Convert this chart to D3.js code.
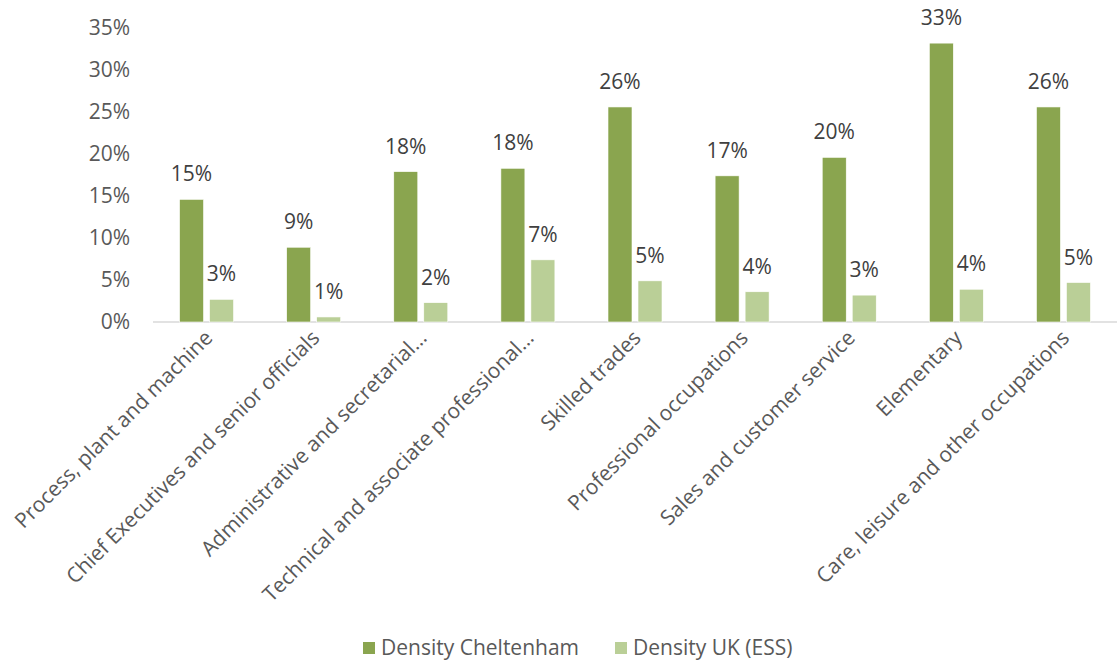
<!DOCTYPE html>
<html>
<head>
<meta charset="utf-8">
<script src="https://cdn.jsdelivr.net/npm/d3@7"></script>
<style>
  body { margin: 0; background: #fff; }
  svg { display: block; font-family: "Open Sans", "Noto Sans", sans-serif; }
</style>
</head>
<body>
<svg id="chart" width="1119" height="663"></svg>
<script>
// Occupations shown along the x axis
const categories = [
  "Process, plant and machine",
  "Chief Executives and senior officials",
  "Administrative and secretarial…",
  "Technical and associate professional…",
  "Skilled trades",
  "Professional occupations",
  "Sales and customer service",
  "Elementary",
  "Care, leisure and other occupations"
];
// Density values (fractions)
const cheltenham = [0.146, 0.089, 0.179, 0.183, 0.256, 0.174, 0.196, 0.332, 0.256];
const ukEss      = [0.027, 0.006, 0.023, 0.074, 0.049, 0.036, 0.032, 0.039, 0.047];
const seriesNames = ["Density Cheltenham", "Density UK (ESS)"];
const yTicks = [0, 0.05, 0.10, 0.15, 0.20, 0.25, 0.30, 0.35];

const colors = ["#8AA54F", "#BACF97"];
const fontSize = "21px";
const svg = d3.select("#chart");
const margin = { left: 153, right: 2, top: 28, bottom: 341 };
const W = 1119, H = 663;

const x = d3.scaleBand().domain(categories).range([margin.left, W - margin.right]).padding(0);
const y = d3.scaleLinear().domain([0, 0.35]).range([H - margin.bottom, margin.top]);
const pct = d3.format(".0%");

// y axis labels
const yAxis = svg.append("g")
  .attr("transform", `translate(${margin.left - 23},0)`)
  .call(d3.axisLeft(y).tickValues(yTicks).tickFormat(pct).tickSize(0).tickPadding(0));
yAxis.select(".domain").remove();
yAxis.selectAll("text").attr("fill", "#595959").style("font-size", fontSize)
  .style("font-family", "'Open Sans', sans-serif");

// baseline
svg.append("line")
  .attr("x1", margin.left).attr("x2", W - margin.right)
  .attr("y1", y(0)).attr("y2", y(0))
  .attr("stroke", "#D9D9D9").attr("stroke-width", 1.5);

const barW = 24, gap = 6;
const data = [cheltenham, ukEss];
data.forEach((vals, s) => {
  const offset = s === 0 ? -(barW + gap / 2) : gap / 2;
  const g = svg.append("g");
  g.selectAll("rect").data(vals).join("rect")
    .attr("x", (d, i) => x(categories[i]) + x.bandwidth() / 2 + offset)
    .attr("y", d => y(d))
    .attr("width", barW)
    .attr("height", d => y(0) - y(d))
    .attr("fill", colors[s])
    .attr("stroke", "#fff").attr("stroke-width", 0.6);
  g.selectAll("text").data(vals).join("text")
    .attr("x", (d, i) => x(categories[i]) + x.bandwidth() / 2 + offset + barW / 2)
    .attr("y", d => y(d) - 18)
    .attr("text-anchor", "middle")
    .attr("fill", "#404040")
    .style("font-size", fontSize)
    .text(d => pct(d));
});

// rotated category labels
svg.append("g").selectAll("text").data(categories).join("text")
  .attr("transform", d => `translate(${x(d) + x.bandwidth() / 2 + 2},${y(0) + 12}) rotate(-45)`)
  .attr("text-anchor", "end")
  .attr("dy", "0.35em")
  .attr("fill", "#595959")
  .style("font-size", fontSize)
  .text(d => d);

// legend
const legend = svg.append("g").attr("transform", "translate(363,648)");
const items = [{ x: 0 }, { x: 252 }];
seriesNames.forEach((name, i) => {
  const gi = legend.append("g").attr("transform", `translate(${items[i].x},0)`);
  gi.append("rect").attr("x", 0).attr("y", -6).attr("width", 12).attr("height", 12).attr("fill", colors[i]);
  gi.append("text").attr("x", 18).attr("y", 0).attr("dy", "0.35em")
    .attr("fill", "#595959").style("font-size", fontSize).text(name);
});
</script>
</body>
</html>
